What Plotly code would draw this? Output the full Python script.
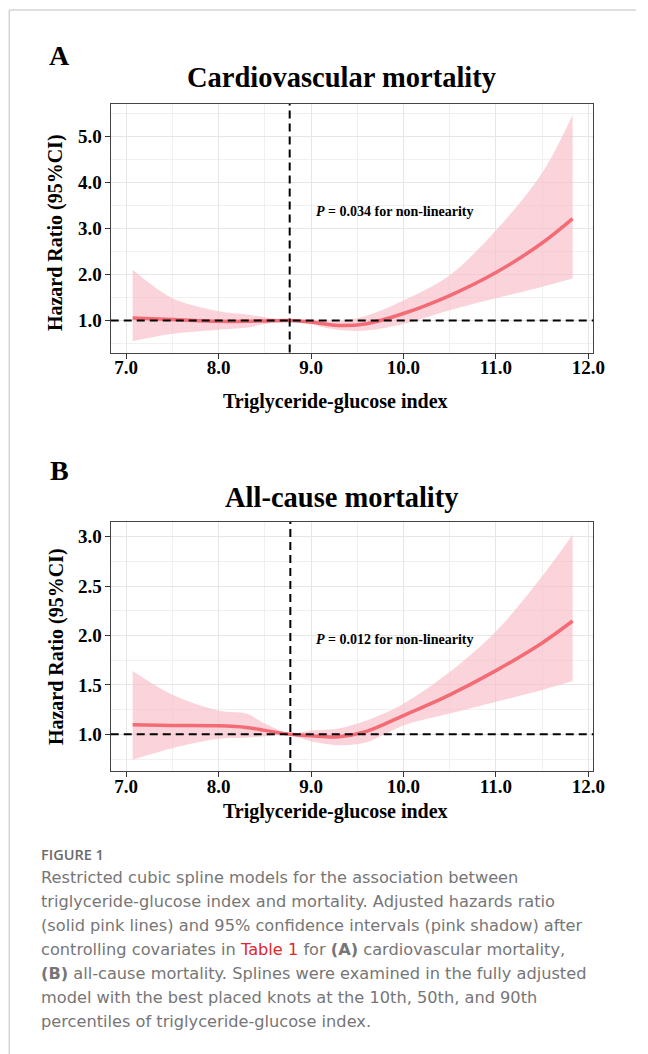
import plotly.graph_objects as go

# ---------------- data ----------------
tyg = [7.07, 7.5, 8.0, 8.3, 8.5, 8.77, 9.0, 9.3, 9.6, 10.0, 10.5, 11.0, 11.5, 11.83]

cv_hr = [1.05, 1.02, 0.98, 0.98, 0.99, 1.00, 0.965, 0.89, 0.93, 1.15, 1.54, 2.04, 2.68, 3.21]
cv_upper = [2.10, 1.48, 1.20, 1.13, 1.07, 1.01, 1.02, 0.98, 1.10, 1.43, 1.98, 2.95, 4.20, 5.46]
cv_lower = [0.55, 0.71, 0.80, 0.84, 0.92, 0.99, 0.91, 0.79, 0.78, 0.92, 1.22, 1.48, 1.73, 1.91]

all_hr = [1.098, 1.09, 1.086, 1.07, 1.04, 1.00, 0.985, 0.975, 1.03, 1.19, 1.40, 1.645, 1.925, 2.147]
all_upper = [1.64, 1.40, 1.24, 1.21, 1.11, 1.01, 1.04, 1.06, 1.14, 1.31, 1.63, 2.04, 2.60, 3.02]
all_lower = [0.744, 0.86, 0.955, 0.965, 0.98, 0.99, 0.93, 0.89, 0.92, 1.09, 1.21, 1.33, 1.45, 1.54]

ref_line_x = [8.769, 8.776]
panel_titles = ["Cardiovascular mortality", "All-cause mortality"]
panel_letters = ["A", "B"]
p_texts = ["<i>P</i> = 0.034 for non-linearity", "<i>P</i> = 0.012 for non-linearity"]
p_y = [3.36, 1.96]
x_ticks = [7.0, 8.0, 9.0, 10.0, 11.0, 12.0]
y_ticks_a = [1.0, 2.0, 3.0, 4.0, 5.0]
y_ticks_b = [1.0, 1.5, 2.0, 2.5, 3.0]

caption_lines = [
    "Restricted cubic spline models for the association between",
    "triglyceride-glucose index and mortality. Adjusted hazards ratio",
    "(solid pink lines) and 95% confidence intervals (pink shadow) after",
    "controlling covariates in <span style='color:#e2262b'>Table 1</span> for <b>(A)</b> cardiovascular mortality,",
    "<b>(B)</b> all-cause mortality. Splines were examined in the fully adjusted",
    "model with the best placed knots at the 10th, 50th, and 90th",
    "percentiles of triglyceride-glucose index.",
]

# ---------------- layout constants ----------------
# page body has an 8px margin, so the figure starts at (8, 8) of the window
OFF = 8
W, H = 648 - OFF, 1054 - OFF
def px(x):
    return (x - OFF) / W
def py(y):
    return 1 - (y - OFF) / H

LINE_COL = "#F36C75"
FILL_COL = "rgba(248,190,202,0.68)"
SERIF = "Liberation Serif"
DASH = "8px,5px"

fig = go.Figure()

panels = [
    dict(xa="x", ya="y", hr=cv_hr, up=cv_upper, lo=cv_lower, vx=ref_line_x[0]),
    dict(xa="x2", ya="y2", hr=all_hr, up=all_upper, lo=all_lower, vx=ref_line_x[1]),
]

for p in panels:
    fig.add_trace(go.Scatter(x=tyg, y=p["lo"], mode="lines", line=dict(width=0, shape="spline", smoothing=0.9),
                             xaxis=p["xa"], yaxis=p["ya"], showlegend=False, hoverinfo="skip"))
    fig.add_trace(go.Scatter(x=tyg, y=p["up"], mode="lines", line=dict(width=0, shape="spline", smoothing=0.9),
                             fill="tonexty", fillcolor=FILL_COL,
                             xaxis=p["xa"], yaxis=p["ya"], showlegend=False, hoverinfo="skip"))
    fig.add_trace(go.Scatter(x=tyg, y=p["hr"], mode="lines",
                             line=dict(width=3.5, color=LINE_COL, shape="spline", smoothing=0.9),
                             xaxis=p["xa"], yaxis=p["ya"], showlegend=False))
    fig.add_shape(type="line", xref=p["xa"], yref=p["ya"] + " domain", x0=p["vx"], x1=p["vx"], y0=0, y1=1,
                  line=dict(color="black", width=2, dash=DASH))
    fig.add_shape(type="line", xref=p["xa"] + " domain", yref=p["ya"], x0=0, x1=1, y0=1, y1=1,
                  line=dict(color="black", width=2, dash=DASH))

axis_common = dict(
    showline=True, linecolor="#444444", linewidth=1.2, mirror=True,
    ticks="outside", ticklen=5, tickwidth=1.2, tickcolor="#333333",
    showgrid=True, gridcolor="#E6E6E6", gridwidth=1.2,
    tickfont=dict(family=SERIF, size=19, color="black", weight="bold"),
    tickformat=".1f", zeroline=False,
)
minor_x = dict(dtick=0.5, tick0=7, showgrid=True, gridcolor="#F0F0F0", gridwidth=1)

x_dom = [px(112.7), px(604.5)]
x_rng = [6.833, 12.054]
fig.update_layout(
    width=W, height=H, margin=dict(l=0, r=0, t=0, b=0),
    paper_bgcolor="white", plot_bgcolor="white",
    xaxis=dict(axis_common, domain=x_dom, range=x_rng, tickvals=x_ticks, anchor="y", minor=minor_x,
               ticklabelstandoff=-7),
    yaxis=dict(axis_common, domain=[py(352.5), py(104)], range=[0.304, 5.696], tickvals=y_ticks_a, anchor="x",
               ticklabelstandoff=-1,
               minor=dict(dtick=0.5, tick0=0.5, showgrid=True, gridcolor="#F0F0F0", gridwidth=1)),
    xaxis2=dict(axis_common, domain=x_dom, range=x_rng, tickvals=x_ticks, anchor="y2", minor=minor_x,
                ticklabelstandoff=-7),
    yaxis2=dict(axis_common, domain=[py(771), py(522)], range=[0.629, 3.149], tickvals=y_ticks_b, anchor="x2",
                ticklabelstandoff=-1,
                minor=dict(dtick=0.25, tick0=0.75, showgrid=True, gridcolor="#F0F0F0", gridwidth=1)),
)

# outer border of the figure card
fig.add_shape(type="line", xref="paper", yref="paper", x0=px(9.3), x1=px(9.3), y0=0, y1=py(10),
              line=dict(color="#D4D4D4", width=1.5))
fig.add_shape(type="line", xref="paper", yref="paper", x0=px(9.3), x1=1, y0=py(10), y1=py(10),
              line=dict(color="#D4D4D4", width=1.5))

ann = []
letter_y = [55, 470]
title_y = [78, 497]
xtitle_y = [401, 812]
ytitle_cy = [233, 647]
def paper_ann(text, x, y, font, xanchor="center", **kw):
    return dict(text=text, x=px(x), y=py(y), xref="paper", yref="paper", xanchor=xanchor, yanchor="middle",
                showarrow=False, font=font, **kw)

for i in range(2):
    ann.append(paper_ann(panel_letters[i], 60, letter_y[i], dict(family=SERIF, size=28, color="black", weight="bold")))
    ann.append(paper_ann(panel_titles[i], 348, title_y[i], dict(family=SERIF, size=28.5, color="black", weight="bold")))
    ann.append(paper_ann("Triglyceride-glucose index", 342, xtitle_y[i],
                         dict(family=SERIF, size=20, color="black", weight="bold")))
    ann.append(paper_ann("Hazard Ratio (95%CI)", 57, ytitle_cy[i],
                         dict(family=SERIF, size=20, color="black", weight="bold"), textangle=-90))
    xa = "x" if i == 0 else "x2"
    ya = "y" if i == 0 else "y2"
    ann.append(dict(text=p_texts[i], x=9.03, y=p_y[i], xref=xa, yref=ya, xanchor="left", yanchor="middle",
                    showarrow=False, font=dict(family=SERIF, size=14, color="black", weight="bold")))

# caption
ann.append(paper_ann("FIGURE 1", 40, 854, dict(family="Open Sans", size=14.5, color="#6b6b6b", weight=600),
                     xanchor="left"))
cap_y0 = 877
for k, line in enumerate(caption_lines):
    ann.append(paper_ann(line, 40, cap_y0 + 24.1 * k, dict(family="DejaVu Sans", size=16.2, color="#767676"),
                         xanchor="left"))

fig.update_layout(annotations=ann)
fig.write_html("out.html")
